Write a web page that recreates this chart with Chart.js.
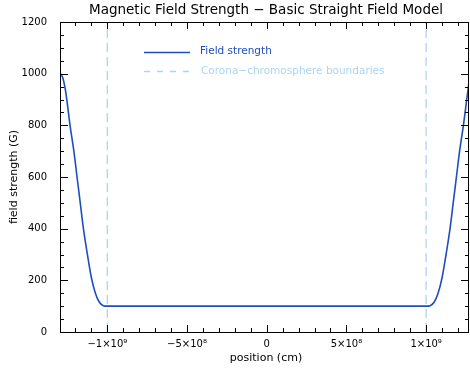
<!DOCTYPE html>
<html>
<head>
<meta charset="utf-8">
<script src="https://cdn.jsdelivr.net/npm/chart.js@4.4.0/dist/chart.umd.min.js"></script>
<style>
  html, body { margin: 0; padding: 0; background: #fff; }
  #wrap { width: 470px; height: 370px; }
</style>
</head>
<body>
<div id="wrap"><canvas id="chart"></canvas></div>
<script>
// Data (position in cm, field in G)
const positions = [-1.297e9, -1.28e9, -1.26e9, -1.234e9, -1.21e9, -1.19e9, -1.17e9, -1.15e9, -1.125e9,
  -1.10e9, -1.075e9, -1.05e9, -1.025e9, -1.0e9, 0, 1.0e9, 1.025e9, 1.05e9, 1.075e9, 1.10e9,
  1.125e9, 1.15e9, 1.17e9, 1.19e9, 1.21e9, 1.234e9, 1.26e9, 1.269e9];
const fieldStrength = [1000, 985, 925, 800, 700, 600, 500, 400, 300,
  210, 150, 115, 102, 100, 100, 100, 102, 115, 150, 210,
  300, 400, 500, 600, 700, 800, 925, 968];
const boundaries = [-1e9, 1e9];

const xTicks = [-1e9, -5e8, 0, 5e8, 1e9];
const xTickLabels = ['\u22121\u00d710\u2079', '\u22125\u00d710\u2078', '0', '5\u00d710\u2078', '1\u00d710\u2079'];
const xMinorStep = 1e8;
const yTicks = [0, 200, 400, 600, 800, 1000, 1200];
const yMinorStep = 50;

const FONT = '"DejaVu Sans", sans-serif';
const LINE_BLUE = '#1d4fbd';
const DASH_BLUE = '#a9d5f6';

// IDL style box with inward ticks, titles and the in-plot legend
const idlFrame = {
  id: 'idlFrame',
  afterDatasetsDraw(chart) {
    const { ctx, chartArea: a, scales: { x, y } } = chart;
    ctx.save();
    ctx.strokeStyle = '#000';
    ctx.lineWidth = 1;
    ctx.strokeRect(a.left + 0.5, a.top + 0.5, a.right - a.left - 1, a.bottom - a.top);

    ctx.beginPath();
    for (let v = Math.ceil(x.min / xMinorStep) * xMinorStep; v <= x.max; v += xMinorStep) {
      const px = Math.round(x.getPixelForValue(v)) + 0.5;
      const major = xTicks.some(t => Math.abs(t - v) < 1);
      const len = major ? 7 : 4;
      ctx.moveTo(px, a.bottom); ctx.lineTo(px, a.bottom - len);
      ctx.moveTo(px, a.top); ctx.lineTo(px, a.top + len);
    }
    for (let v = 0; v <= y.max; v += yMinorStep) {
      const py = Math.round(y.getPixelForValue(v)) + 0.5;
      const major = yTicks.includes(v);
      const len = major ? 8 : 4;
      ctx.moveTo(a.left, py); ctx.lineTo(a.left + len, py);
      ctx.moveTo(a.right, py); ctx.lineTo(a.right - len, py);
    }
    ctx.stroke();

    // legend
    ctx.lineWidth = 1.3;
    ctx.strokeStyle = LINE_BLUE;
    ctx.beginPath(); ctx.moveTo(144, 52.5); ctx.lineTo(190, 52.5); ctx.stroke();
    ctx.strokeStyle = DASH_BLUE;
    ctx.setLineDash([6, 7]);
    ctx.beginPath(); ctx.moveTo(144, 71.5); ctx.lineTo(192, 71.5); ctx.stroke();
    ctx.setLineDash([]);
    ctx.font = '10.5px ' + FONT;
    ctx.textBaseline = 'middle';
    ctx.textAlign = 'left';
    ctx.fillStyle = LINE_BLUE;
    ctx.fillText('Field strength', 200, 51);
    ctx.fillStyle = DASH_BLUE;
    ctx.fillText('Corona\u2212chromosphere boundaries', 201, 71);

    // titles
    ctx.fillStyle = '#000';
    ctx.textAlign = 'center';
    ctx.font = '13.5px ' + FONT;
    ctx.fillText('Magnetic Field Strength \u2212 Basic Straight Field Model', 266, 10);
    ctx.font = '11px ' + FONT;
    ctx.fillText('position (cm)', 266, 358);
    ctx.translate(14, 177);
    ctx.rotate(-Math.PI / 2);
    ctx.fillText('field strength (G)', 0, 0);
    ctx.restore();
  }
};

new Chart(document.getElementById('chart'), {
  type: 'line',
  data: {
    datasets: [
      {
        label: 'Field strength',
        data: positions.map((p, i) => ({ x: p, y: fieldStrength[i] })),
        borderColor: LINE_BLUE,
        borderWidth: 1.6,
        pointRadius: 0,
        cubicInterpolationMode: 'monotone'
      },
      {
        label: 'Corona-chromosphere boundaries',
        data: [
          { x: boundaries[0], y: 0 }, { x: boundaries[0], y: 1200 }, { x: 0, y: null },
          { x: boundaries[1], y: 0 }, { x: boundaries[1], y: 1200 }
        ],
        borderColor: DASH_BLUE,
        borderWidth: 1.3,
        borderDash: [9, 5],
        pointRadius: 0,
        spanGaps: false
      }
    ]
  },
  options: {
    responsive: true,
    maintainAspectRatio: false,
    animation: false,
    layout: { padding: { top: 22, right: 1, left: 0, bottom: 0 } },
    plugins: { legend: { display: false }, tooltip: { enabled: false } },
    scales: {
      x: {
        type: 'linear',
        min: -1.297e9,
        max: 1.269e9,
        afterBuildTicks: s => { s.ticks = xTicks.map(v => ({ value: v })); },
        afterFit: s => { s.height = 38; },
        border: { display: false },
        grid: { display: false },
        ticks: {
          autoSkip: false,
          maxRotation: 0,
          padding: -2,
          color: '#000',
          font: { family: FONT, size: 10 },
          callback: v => xTickLabels[xTicks.indexOf(v)]
        }
      },
      y: {
        min: 0,
        max: 1200,
        afterBuildTicks: s => { s.ticks = yTicks.map(v => ({ value: v })); },
        afterFit: s => { s.width = 60; },
        border: { display: false },
        grid: { display: false },
        ticks: {
          padding: 5,
          color: '#000',
          font: { family: FONT, size: 10 },
          callback: v => String(v)
        }
      }
    }
  },
  plugins: [idlFrame]
});
</script>
</body>
</html>
